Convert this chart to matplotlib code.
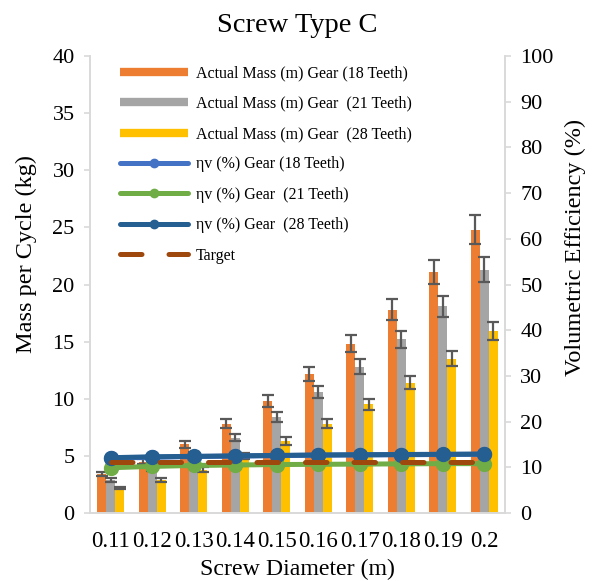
import matplotlib
matplotlib.use("Agg")
import matplotlib.pyplot as plt
from matplotlib.lines import Line2D
import numpy as np

plt.rcParams['font.family'] = ['Liberation Serif', 'DejaVu Serif']

diameters = ["0.11", "0.12", "0.13", "0.14", "0.15", "0.16", "0.17", "0.18", "0.19", "0.2"]
mass_18 = [3.4, 4.5, 6.0, 7.8, 9.8, 12.2, 14.8, 17.8, 21.1, 24.8]
mass_21 = [2.9, 3.9, 5.1, 6.6, 8.4, 10.6, 12.8, 15.2, 18.1, 21.3]
mass_28 = [2.2, 2.9, 3.8, 5.0, 6.3, 7.8, 9.5, 11.4, 13.5, 15.9]
err_frac = 0.05
eff_18 = [12.0, 12.2, 12.35, 12.45, 12.55, 12.65, 12.7, 12.75, 12.8, 12.85]
eff_21 = [9.9, 10.2, 10.4, 10.5, 10.6, 10.65, 10.7, 10.75, 10.8, 10.8]
eff_28 = [12.1, 12.3, 12.4, 12.5, 12.6, 12.7, 12.75, 12.8, 12.85, 12.9]
target = [11.25] * 10

labels_bar = ["Actual Mass (m) Gear (18 Teeth)", "Actual Mass (m) Gear  (21 Teeth)",
              "Actual Mass (m) Gear  (28 Teeth)"]
labels_line = ["\u03b7v (%) Gear (18 Teeth)", "\u03b7v (%) Gear  (21 Teeth)",
               "\u03b7v (%) Gear  (28 Teeth)", "Target"]

c_or, c_gr, c_ye = "#ED7D31", "#A5A5A5", "#FFC000"
c_bl, c_gn, c_db, c_tg = "#4472C4", "#70AD47", "#255E91", "#9E480E"
spine_c = "#D9D9D9"

W, H = 595, 581
fig = plt.figure(figsize=(W / 100, H / 100), dpi=100)
ax = fig.add_axes([90 / W, 1 - 513 / H, (505 - 90) / W, (513 - 56) / H])
ax2 = ax.twinx()

x = np.arange(len(diameters))
bw = 0.22
for off, vals, col in [(-bw, mass_18, c_or), (0, mass_21, c_gr), (bw, mass_28, c_ye)]:
    v = np.array(vals)
    ax.bar(x + off, v, width=bw, color=col, zorder=2)
    ax.errorbar(x + off, v, yerr=v * err_frac, fmt='none', ecolor="#595959",
                elinewidth=1.6, capsize=4.5, capthick=1.6, zorder=3)

ax2.plot(x, eff_18, color=c_bl, lw=3.6, marker='o', ms=10, zorder=3)
ax2.plot(x, eff_21, color=c_gn, lw=3.6, marker='o', ms=10, zorder=4)
ax2.plot(x, eff_28, color=c_db, lw=3.6, marker='o', ms=10, zorder=5)
ax2.plot(x, target, color=c_tg, lw=3.6, dashes=(4.3, 5.4), dash_capstyle='round', zorder=6)

ax.set_xlim(-0.5, len(diameters) - 0.5)
ax.set_ylim(0, 40)
ax2.set_ylim(0, 100)
ax.set_yticks(np.arange(0, 41, 5))
ax2.set_yticks(np.arange(0, 101, 10))
ax.set_xticks(x)
ax.set_xticklabels(diameters)

for a in (ax, ax2):
    a.spines['top'].set_visible(False)
    for s in ('left', 'right', 'bottom'):
        a.spines[s].set_color(spine_c)
        a.spines[s].set_linewidth(1.2)
ax.tick_params(axis='y', colors=spine_c, labelcolor='black', labelsize=16, length=4, width=1.2, pad=7)
ax2.tick_params(axis='y', colors=spine_c, labelcolor='black', labelsize=16, length=4, width=1.2, pad=7)
ax.tick_params(axis='x', length=0, labelsize=16.5, pad=13)

ax.set_ylabel("Mass per Cycle (kg)", fontsize=17.5)
ax2.set_ylabel("Volumetric Efficiency (%)", fontsize=17.5)
ax.yaxis.set_label_coords(-0.128, 0.567)
ax2.yaxis.set_label_coords(1.145, 0.582)
ax.set_xlabel("Screw Diameter (m)", fontsize=17.2, labelpad=5)
ax.set_title("Screw Type C", fontsize=20.5, pad=17.5)

handles = [Line2D([], [], color=c_or, lw=6, solid_capstyle='butt'),
           Line2D([], [], color=c_gr, lw=6, solid_capstyle='butt'),
           Line2D([], [], color=c_ye, lw=6, solid_capstyle='butt'),
           Line2D([], [], color=c_bl, lw=3.6, marker='o', ms=6, solid_capstyle='round'),
           Line2D([], [], color=c_gn, lw=3.6, marker='o', ms=6, solid_capstyle='round'),
           Line2D([], [], color=c_db, lw=3.6, marker='o', ms=6, solid_capstyle='round'),
           Line2D([], [], color=c_tg, lw=3.6, dashes=(4.3, 5.4), dash_capstyle='round')]
leg = ax2.legend(handles, labels_bar + labels_line, loc='upper left',
                 bbox_to_anchor=(0.038, 1.011), frameon=False, fontsize=11.5,
                 handlelength=4.25, labelspacing=0.9, handletextpad=0.5,
                 borderpad=0.4)

fig.savefig("out.png", dpi=100)
